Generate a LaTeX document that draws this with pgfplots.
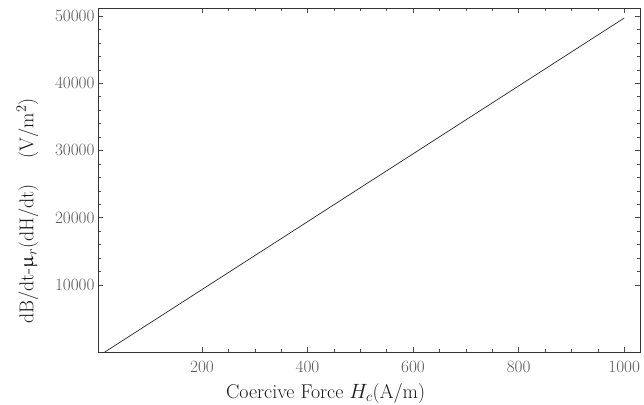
\documentclass[border=0pt]{standalone}
\usepackage{pgfplots}
\pgfplotsset{compat=1.18}
\usepackage{upgreek}
\usetikzlibrary{calc}

\begin{document}
\begin{tikzpicture}
\begin{axis}[
  scale only axis,
  width=542bp, height=344bp,
  xmin=3, xmax=1030,
  ymin=0, ymax=51200,
  xtick={200,400,600,800,1000},
  ytick={10000,20000,30000,40000,50000},
  minor x tick num=3,
  minor y tick num=4,
  tick align=inside,
  tick pos=both,
  major tick length=5bp,
  minor tick length=3bp,
  scaled ticks=false,
  /pgf/number format/1000 sep={},
  tick label style={font=\fontsize{16}{18}\selectfont, color=black!65},
  xticklabel style={yshift=-6bp},
  xlabel={Coercive Force $H_c$(A/m)},
  ylabel={dB/dt-$\upmu_r$(dH/dt)\quad\ (V/m$^2$)},
  label style={font=\fontsize{20}{22}\selectfont, color=black!90},
  xlabel style={at={(axis description cs:0.42,-0.12)}, anchor=center},
  ylabel style={at={(axis description cs:-0.13,0.41)}, anchor=center},
  axis line style={black!80},
  every tick/.style={black!70},
]
\addplot[black!85, line width=0.7pt] coordinates {(16,0) (1000,49700)};
\end{axis}
\pgfresetboundingbox
\path ($(current axis.south west)+(-98bp,-53bp)$) rectangle ($(current axis.north east)+(4bp,8bp)$);
\end{tikzpicture}
\end{document}
